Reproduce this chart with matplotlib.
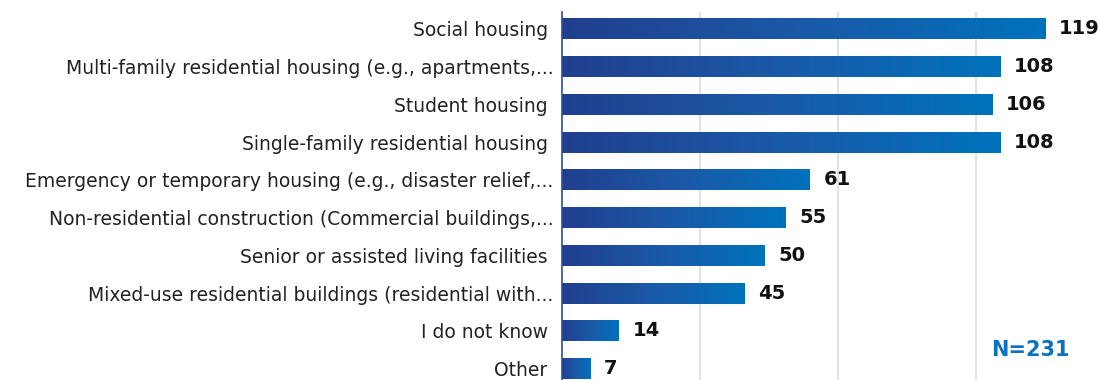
import numpy as np
import matplotlib
matplotlib.use("Agg")
import matplotlib.pyplot as plt
from matplotlib.colors import LinearSegmentedColormap

categories = [
    "Social housing ",
    "Multi-family residential housing (e.g., apartments,...",
    "Student housing ",
    "Single-family residential housing ",
    "Emergency or temporary housing (e.g., disaster relief,...",
    "Non-residential construction (Commercial buildings,...",
    "Senior or assisted living facilities ",
    "Mixed-use residential buildings (residential with...",
    "I do not know ",
    "Other ",
]
counts = [119, 108, 106, 108, 61, 55, 50, 45, 14, 7]
sample_note = "N=231"

plt.rcParams["font.family"] = ["DejaVu Sans"]

W, H = 1098, 380
fig = plt.figure(figsize=(W / 100, H / 100), dpi=100)
ax = fig.add_axes([562 / W, 0, (W - 562) / W, (H - 12) / H])

# each bar gets its own dark-to-light ramp along its length
grad = LinearSegmentedColormap.from_list("bar", ["#213f8f", "#1a5aa8", "#0072bc"])
ramp = np.linspace(0, 1, 256).reshape(1, -1)
bar_h = 0.55

for i, v in enumerate(counts):
    ax.imshow(ramp, cmap=grad, aspect="auto", interpolation="bilinear",
              extent=[0, v, i + bar_h / 2, i - bar_h / 2], zorder=2)
    ax.text(v + 3.4, i, str(v), va="center", ha="left", fontsize=14,
            fontweight="bold", color="#111111")

ax.set_xlim(0, (W - 562) / 4.06)
ax.set_ylim(len(counts) - 1 + 0.3, -0.45)
ax.set_xticks([34, 68, 102])
ax.grid(axis="x", color="#e3e3e3", linewidth=1.6, zorder=0)
ax.set_axisbelow(True)
ax.set_yticks(range(len(categories)))
ax.set_yticklabels(categories, fontsize=13.5, color="#222222")
ax.tick_params(axis="y", length=0, pad=6)
ax.tick_params(axis="x", length=0, labelbottom=False)
for s in ("top", "right", "bottom"):
    ax.spines[s].set_visible(False)
ax.spines["left"].set_color("#2a4f9c")
ax.spines["left"].set_linewidth(1.2)

fig.text(1030 / W, 1 - 350 / H, sample_note, ha="center", va="center",
         fontsize=15, fontweight="bold", color="#0a72c0")

fig.savefig("out.png", dpi=100)
